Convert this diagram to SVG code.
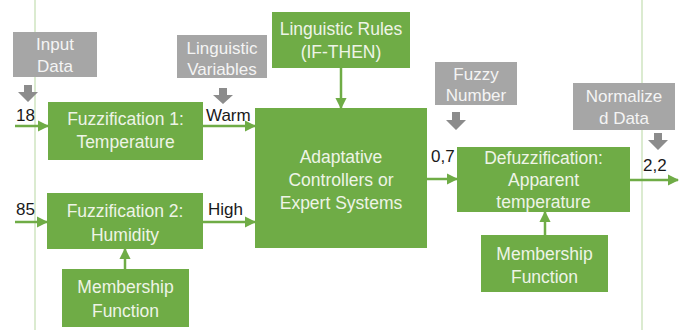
<svg xmlns="http://www.w3.org/2000/svg" width="682" height="330" viewBox="0 0 682 330">
<defs>
<style>
.g{fill:#6fac46}
.gr{fill:#a6a6a6}
.t{font-family:"Liberation Sans",Arial,sans-serif;font-size:17.5px;fill:#eef4e6;text-anchor:middle}
.tg{font-family:"Liberation Sans",Arial,sans-serif;font-size:17px;fill:#f4f4f4;text-anchor:middle}
.l{font-family:"Liberation Sans",Arial,sans-serif;font-size:17px;fill:#1a1a1a}
.c{stroke:#6fac46;stroke-width:2.5;fill:none}
.ga{fill:#8c8c8c}
.v{stroke:#cfe5c0;stroke-width:1.5}
</style>
<marker id="ah" viewBox="0 0 10 10" refX="9" refY="5" markerWidth="4.5" markerHeight="4.5" orient="auto" markerUnits="strokeWidth">
<path d="M0,0 L10,5 L0,10 z" fill="#6fac46"/>
</marker>
</defs>
<rect width="682" height="330" fill="#ffffff"/>
<line class="v" x1="35" y1="0" x2="35" y2="330"/>
<line class="v" x1="642" y1="0" x2="642" y2="330"/>

<g id="input-data">
<rect class="gr" x="13" y="32" width="84" height="45"/>
<text class="tg" x="55" y="50">Input</text>
<text class="tg" x="55" y="72">Data</text>
<polygon class="ga" points="24,85 32,85 32,92 38,92 28,102 18,92 24,92"/>
</g>
<g id="linguistic-variables">
<rect class="gr" x="177" y="35" width="90" height="43"/>
<text class="tg" x="222" y="54">Linguistic</text>
<text class="tg" x="222" y="75">Variables</text>
<polygon class="ga" points="219,88 227,88 227,95 233,95 223,104 213,95 219,95"/>
</g>
<g id="linguistic-rules">
<rect class="g" x="272" y="12" width="138" height="56"/>
<text class="t" x="341" y="35">Linguistic Rules</text>
<text class="t" x="341" y="58">(IF-THEN)</text>
</g>
<g id="fuzzification-1">
<rect class="g" x="48" y="102" width="155" height="58"/>
<text class="t" x="125.5" y="125">Fuzzification 1:</text>
<text class="t" x="125.5" y="148">Temperature</text>
</g>
<g id="fuzzification-2">
<rect class="g" x="47" y="193" width="156" height="56"/>
<text class="t" x="125" y="217">Fuzzification 2:</text>
<text class="t" x="125" y="241">Humidity</text>
</g>
<g id="membership-1">
<rect class="g" x="62" y="269" width="127" height="58"/>
<text class="t" x="125.5" y="293">Membership</text>
<text class="t" x="125.5" y="317">Function</text>
</g>
<g id="adaptative">
<rect class="g" x="255" y="108" width="172" height="140"/>
<text class="t" x="341" y="163">Adaptative</text>
<text class="t" x="341" y="186">Controllers or</text>
<text class="t" x="341" y="209">Expert Systems</text>
</g>
<g id="fuzzy-number">
<rect class="gr" x="435" y="62" width="82" height="43"/>
<text class="tg" x="476" y="80">Fuzzy</text>
<text class="tg" x="476" y="101">Number</text>
<polygon class="ga" points="452,112 460,112 460,120 466,120 456,130 446,120 452,120"/>
</g>
<g id="defuzzification">
<rect class="g" x="457" y="147" width="173" height="65"/>
<text class="t" x="543.5" y="164">Defuzzification:</text>
<text class="t" x="543.5" y="186">Apparent</text>
<text class="t" x="543.5" y="208">temperature</text>
</g>
<g id="normalized-data">
<rect class="gr" x="573" y="83" width="102" height="47"/>
<text class="tg" x="624" y="102">Normalize</text>
<text class="tg" x="624" y="124">d Data</text>
<polygon class="ga" points="654,133 662,133 662,140 668,140 658,150 648,140 654,140"/>
</g>
<g id="membership-2">
<rect class="g" x="481" y="235" width="127" height="57"/>
<text class="t" x="544.5" y="260">Membership</text>
<text class="t" x="544.5" y="283">Function</text>
</g>

<g id="connectors">
<line class="c" x1="15" y1="126" x2="48" y2="126" marker-end="url(#ah)"/>
<line class="c" x1="203" y1="126" x2="255" y2="126" marker-end="url(#ah)"/>
<line class="c" x1="15" y1="222" x2="47" y2="222" marker-end="url(#ah)"/>
<line class="c" x1="203" y1="222" x2="255" y2="222" marker-end="url(#ah)"/>
<line class="c" x1="125" y1="269" x2="125" y2="249" marker-end="url(#ah)"/>
<line class="c" x1="341" y1="68" x2="341" y2="108" marker-end="url(#ah)"/>
<line class="c" x1="427" y1="179" x2="457" y2="179" marker-end="url(#ah)"/>
<line class="c" x1="630" y1="180" x2="678" y2="180" marker-end="url(#ah)"/>
<line class="c" x1="545" y1="235" x2="545" y2="212" marker-end="url(#ah)"/>
</g>

<g id="labels">
<text class="l" x="16" y="121">18</text>
<text class="l" x="206" y="121">Warm</text>
<text class="l" x="16" y="215">85</text>
<text class="l" x="208" y="215">High</text>
<text class="l" x="431" y="162">0,7</text>
<text class="l" x="643" y="171">2,2</text>
</g>
</svg>
